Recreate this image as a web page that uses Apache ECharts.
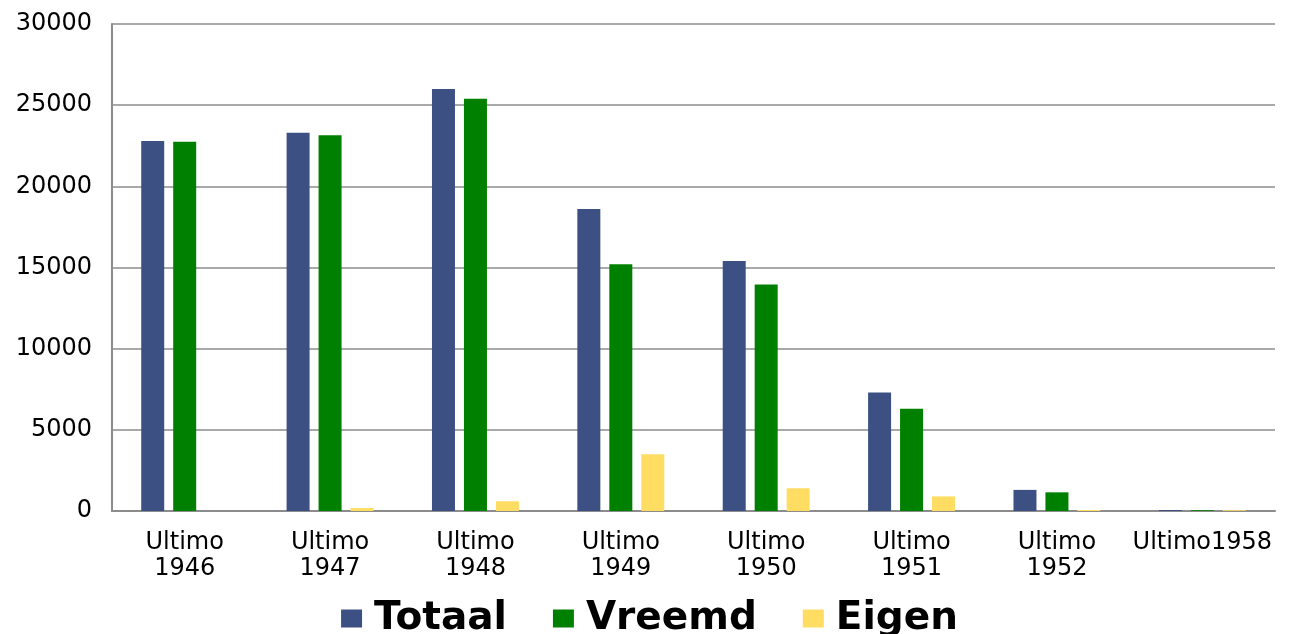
<!DOCTYPE html>
<html><head><meta charset="utf-8">
<script src="https://cdn.jsdelivr.net/npm/echarts@6/dist/echarts.min.js"></script>
<style>html,body{margin:0;padding:0;background:#fff}#c{width:1299px;height:634px}</style>
</head><body><div id="c"></div>
<script>
const categories = ["Ultimo\n1946","Ultimo\n1947","Ultimo\n1948","Ultimo\n1949","Ultimo\n1950","Ultimo\n1951","Ultimo\n1952","Ultimo1958"];
const totaal = [22800, 23300, 26000, 18600, 15400, 7300, 1300, 60];
const vreemd = [22750, 23150, 25400, 15200, 13950, 6300, 1150, 50];
const eigen  = [0, 180, 600, 3500, 1400, 900, 60, 50];
const yTicks = [0, 5000, 10000, 15000, 20000, 25000, 30000];

const chart = echarts.init(document.getElementById('c'), null, {renderer:'canvas'});
const font = '"DejaVu Sans", sans-serif';
chart.setOption({
  animation:false,
  grid:{left:112,right:24,top:24,bottom:123,containLabel:false},
  legend:{
    top:594, left:'center', itemWidth:21, itemHeight:18, itemGap:46,
    icon:'rect',
    textStyle:{fontFamily:font,fontSize:39,fontWeight:'bold',color:'#000',padding:[0,0,0,7]},
    data:['Totaal','Vreemd','Eigen']
  },
  xAxis:{
    type:'category', data:categories,
    axisLine:{lineStyle:{color:'#8c8c8c',width:2}},
    axisTick:{show:false},
    axisLabel:{fontFamily:font,fontSize:24,color:'#000',margin:19,lineHeight:26,interval:0}
  },
  yAxis:{
    type:'value', min:yTicks[0], max:yTicks[yTicks.length-1], interval:5000,
    axisLine:{show:true,lineStyle:{color:'#8c8c8c',width:2}},
    axisTick:{show:false},
    splitLine:{lineStyle:{color:'#8c8c8c',width:1.5}},
    axisLabel:{fontFamily:font,fontSize:24,color:'#000',margin:20,formatter:function(v){return String(v);}}
  },
  series:[
    {name:'Totaal',type:'bar',data:totaal,barWidth:23,barGap:'39%',
     itemStyle:{color:'#3d5084'}},
    {name:'Vreemd',type:'bar',data:vreemd,barWidth:23,barGap:'39%',
     itemStyle:{color:'#008000'}},
    {name:'Eigen',type:'bar',data:eigen,barWidth:23,barGap:'39%',
     itemStyle:{color:'#ffdc62'}}
  ]
});
</script></body></html>
